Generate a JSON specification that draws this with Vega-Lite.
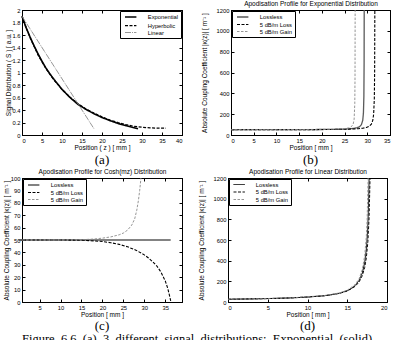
{
  "$schema": "https://vega.github.io/schema/vega-lite/v6.json",
  "background": "white",
  "padding": {"left": 3, "top": 0, "right": 0, "bottom": 0},
  "config": {
    "font": "Liberation Sans",
    "view": {"stroke": "black", "strokeWidth": 1},
    "axis": {
      "grid": false, "domainColor": "black", "domainWidth": 1,
      "tickColor": "black", "tickWidth": 1, "tickSize": -3, "labelPadding": 5,
      "labelColor": "black", "labelFont": "Liberation Sans", "labelFontSize": 5.8,
      "titleFont": "Liberation Sans", "titleFontSize": 6.5, "titleFontWeight": "normal",
      "titleColor": "black", "titlePadding": 2
    },
    "legend": {
      "offset": 1, "padding": 2, "strokeColor": "black", "fillColor": "white",
      "labelFont": "Liberation Sans", "labelFontSize": 5.8, "labelColor": "black",
      "symbolType": "M-2.8,0H1", "symbolSize": 36, "symbolOffset": 7.4,
      "rowPadding": 0.5, "labelOffset": 10.4
    },
    "title": {"font": "Liberation Serif", "fontSize": 13, "fontWeight": "normal", "color": "black", "orient": "bottom", "offset": 3},
    "line": {"clip": true}
  },
  "datasets": {
    "sig": [
      {"s": "Exponential", "z": 0, "v": 1.9}, {"s": "Exponential", "z": 1, "v": 1.72}, {"s": "Exponential", "z": 2, "v": 1.57},
      {"s": "Exponential", "z": 3, "v": 1.43}, {"s": "Exponential", "z": 4, "v": 1.3}, {"s": "Exponential", "z": 5, "v": 1.18},
      {"s": "Exponential", "z": 6, "v": 1.07}, {"s": "Exponential", "z": 7, "v": 0.975}, {"s": "Exponential", "z": 8, "v": 0.89},
      {"s": "Exponential", "z": 9, "v": 0.81}, {"s": "Exponential", "z": 10, "v": 0.73}, {"s": "Exponential", "z": 11, "v": 0.665},
      {"s": "Exponential", "z": 12, "v": 0.6}, {"s": "Exponential", "z": 13, "v": 0.545}, {"s": "Exponential", "z": 14, "v": 0.49},
      {"s": "Exponential", "z": 15, "v": 0.45}, {"s": "Exponential", "z": 16, "v": 0.41}, {"s": "Exponential", "z": 17, "v": 0.375},
      {"s": "Exponential", "z": 18, "v": 0.34}, {"s": "Exponential", "z": 19, "v": 0.31}, {"s": "Exponential", "z": 20, "v": 0.28},
      {"s": "Exponential", "z": 22, "v": 0.23}, {"s": "Exponential", "z": 24, "v": 0.185}, {"s": "Exponential", "z": 26, "v": 0.15},
      {"s": "Exponential", "z": 28, "v": 0.115}, {"s": "Exponential", "z": 29, "v": 0.1},
      {"s": "Hyperbolic", "z": 0, "v": 1.9}, {"s": "Hyperbolic", "z": 2, "v": 1.56}, {"s": "Hyperbolic", "z": 4, "v": 1.28},
      {"s": "Hyperbolic", "z": 6, "v": 1.06}, {"s": "Hyperbolic", "z": 8, "v": 0.88}, {"s": "Hyperbolic", "z": 10, "v": 0.73},
      {"s": "Hyperbolic", "z": 12, "v": 0.605}, {"s": "Hyperbolic", "z": 14, "v": 0.5}, {"s": "Hyperbolic", "z": 16, "v": 0.415},
      {"s": "Hyperbolic", "z": 18, "v": 0.35}, {"s": "Hyperbolic", "z": 20, "v": 0.29}, {"s": "Hyperbolic", "z": 22, "v": 0.24},
      {"s": "Hyperbolic", "z": 24, "v": 0.2}, {"s": "Hyperbolic", "z": 26, "v": 0.165}, {"s": "Hyperbolic", "z": 28, "v": 0.14},
      {"s": "Hyperbolic", "z": 30, "v": 0.125}, {"s": "Hyperbolic", "z": 32, "v": 0.115}, {"s": "Hyperbolic", "z": 34, "v": 0.11},
      {"s": "Hyperbolic", "z": 36, "v": 0.108},
      {"s": "Linear", "z": 0, "v": 1.9}, {"s": "Linear", "z": 18, "v": 0.1}
    ],
    "expo": [
      {"s": "Lossless", "z": 0, "v": 50.6}, {"s": "Lossless", "z": 5, "v": 50.8}, {"s": "Lossless", "z": 10, "v": 51.2},
      {"s": "Lossless", "z": 15, "v": 51.7}, {"s": "Lossless", "z": 18, "v": 52.3}, {"s": "Lossless", "z": 20, "v": 52.9},
      {"s": "Lossless", "z": 22, "v": 53.9}, {"s": "Lossless", "z": 24, "v": 55.5}, {"s": "Lossless", "z": 25, "v": 56.9},
      {"s": "Lossless", "z": 26, "v": 59.1}, {"s": "Lossless", "z": 27, "v": 63.1}, {"s": "Lossless", "z": 27.8, "v": 70.1},
      {"s": "Lossless", "z": 28.3, "v": 80}, {"s": "Lossless", "z": 28.7, "v": 98.7}, {"s": "Lossless", "z": 29.0, "v": 140.9},
      {"s": "Lossless", "z": 29.15, "v": 209.5}, {"s": "Lossless", "z": 29.25, "v": 369.5}, {"s": "Lossless", "z": 29.3, "v": 689.5},
      {"s": "Lossless", "z": 29.322, "v": 1200},
      {"s": "5 dB/m Loss", "z": 0, "v": 49.9}, {"s": "5 dB/m Loss", "z": 10, "v": 50.6}, {"s": "5 dB/m Loss", "z": 15, "v": 51.2},
      {"s": "5 dB/m Loss", "z": 20, "v": 52.3}, {"s": "5 dB/m Loss", "z": 22, "v": 53.1}, {"s": "5 dB/m Loss", "z": 24, "v": 54.3},
      {"s": "5 dB/m Loss", "z": 26, "v": 56.4}, {"s": "5 dB/m Loss", "z": 27, "v": 58.1}, {"s": "5 dB/m Loss", "z": 28, "v": 60.7},
      {"s": "5 dB/m Loss", "z": 29, "v": 65.2}, {"s": "5 dB/m Loss", "z": 29.8, "v": 72.2}, {"s": "5 dB/m Loss", "z": 30.4, "v": 83.1},
      {"s": "5 dB/m Loss", "z": 30.9, "v": 104.8}, {"s": "5 dB/m Loss", "z": 31.2, "v": 138.5}, {"s": "5 dB/m Loss", "z": 31.4, "v": 198.5},
      {"s": "5 dB/m Loss", "z": 31.55, "v": 348.5}, {"s": "5 dB/m Loss", "z": 31.62, "v": 611}, {"s": "5 dB/m Loss", "z": 31.661, "v": 1200},
      {"s": "5 dB/m Gain", "z": 0, "v": 51.4}, {"s": "5 dB/m Gain", "z": 10, "v": 51.9}, {"s": "5 dB/m Gain", "z": 15, "v": 52.5},
      {"s": "5 dB/m Gain", "z": 20, "v": 53.9}, {"s": "5 dB/m Gain", "z": 22, "v": 55.2}, {"s": "5 dB/m Gain", "z": 24, "v": 58},
      {"s": "5 dB/m Gain", "z": 25, "v": 61.1}, {"s": "5 dB/m Gain", "z": 26, "v": 69}, {"s": "5 dB/m Gain", "z": 26.5, "v": 79.9},
      {"s": "5 dB/m Gain", "z": 26.9, "v": 106}, {"s": "5 dB/m Gain", "z": 27.1, "v": 150.5}, {"s": "5 dB/m Gain", "z": 27.25, "v": 300.5},
      {"s": "5 dB/m Gain", "z": 27.3, "v": 550.5}, {"s": "5 dB/m Gain", "z": 27.328, "v": 1200}
    ],
    "cosh": [
      {"s": "Lossless", "z": 0, "v": 50}, {"s": "Lossless", "z": 10, "v": 50}, {"s": "Lossless", "z": 20, "v": 50},
      {"s": "Lossless", "z": 30, "v": 50}, {"s": "Lossless", "z": 36.3, "v": 50},
      {"s": "5 dB/m Loss", "z": 0, "v": 50}, {"s": "5 dB/m Loss", "z": 10, "v": 50}, {"s": "5 dB/m Loss", "z": 15, "v": 49.8},
      {"s": "5 dB/m Loss", "z": 17, "v": 49.5}, {"s": "5 dB/m Loss", "z": 20, "v": 48.8}, {"s": "5 dB/m Loss", "z": 22, "v": 47.8},
      {"s": "5 dB/m Loss", "z": 24, "v": 46.5}, {"s": "5 dB/m Loss", "z": 26, "v": 44.5}, {"s": "5 dB/m Loss", "z": 28, "v": 41.8},
      {"s": "5 dB/m Loss", "z": 30, "v": 38}, {"s": "5 dB/m Loss", "z": 31, "v": 35.5}, {"s": "5 dB/m Loss", "z": 32, "v": 32.5},
      {"s": "5 dB/m Loss", "z": 33, "v": 29}, {"s": "5 dB/m Loss", "z": 34, "v": 24}, {"s": "5 dB/m Loss", "z": 35, "v": 17},
      {"s": "5 dB/m Loss", "z": 35.6, "v": 11}, {"s": "5 dB/m Loss", "z": 36.1, "v": 4}, {"s": "5 dB/m Loss", "z": 36.3, "v": 1},
      {"s": "5 dB/m Gain", "z": 0, "v": 50}, {"s": "5 dB/m Gain", "z": 10, "v": 50}, {"s": "5 dB/m Gain", "z": 15, "v": 50.2},
      {"s": "5 dB/m Gain", "z": 18, "v": 50.8}, {"s": "5 dB/m Gain", "z": 20, "v": 51.5}, {"s": "5 dB/m Gain", "z": 22, "v": 52.5},
      {"s": "5 dB/m Gain", "z": 24, "v": 54.2}, {"s": "5 dB/m Gain", "z": 25, "v": 55.6}, {"s": "5 dB/m Gain", "z": 26, "v": 58},
      {"s": "5 dB/m Gain", "z": 27, "v": 62}, {"s": "5 dB/m Gain", "z": 27.7, "v": 67}, {"s": "5 dB/m Gain", "z": 28.2, "v": 74},
      {"s": "5 dB/m Gain", "z": 28.6, "v": 82}, {"s": "5 dB/m Gain", "z": 28.9, "v": 90}, {"s": "5 dB/m Gain", "z": 29.2, "v": 100}
    ],
    "lin": [
      {"s": "Lossless", "z": 0, "v": 26.7}, {"s": "Lossless", "z": 2, "v": 28.75}, {"s": "Lossless", "z": 4, "v": 31.4},
      {"s": "Lossless", "z": 6, "v": 35}, {"s": "Lossless", "z": 8, "v": 40}, {"s": "Lossless", "z": 10, "v": 47.5},
      {"s": "Lossless", "z": 12, "v": 60}, {"s": "Lossless", "z": 13, "v": 70}, {"s": "Lossless", "z": 14, "v": 85},
      {"s": "Lossless", "z": 15, "v": 110}, {"s": "Lossless", "z": 15.5, "v": 130}, {"s": "Lossless", "z": 16, "v": 160},
      {"s": "Lossless", "z": 16.5, "v": 210}, {"s": "Lossless", "z": 16.9, "v": 282.7}, {"s": "Lossless", "z": 17.2, "v": 385},
      {"s": "Lossless", "z": 17.4, "v": 510}, {"s": "Lossless", "z": 17.55, "v": 676.7}, {"s": "Lossless", "z": 17.65, "v": 867},
      {"s": "Lossless", "z": 17.75, "v": 1200},
      {"s": "5 dB/m Loss", "z": 0, "v": 26.6}, {"s": "5 dB/m Loss", "z": 4, "v": 31.2}, {"s": "5 dB/m Loss", "z": 8, "v": 39.6},
      {"s": "5 dB/m Loss", "z": 12, "v": 59}, {"s": "5 dB/m Loss", "z": 14, "v": 82.8}, {"s": "5 dB/m Loss", "z": 15, "v": 106},
      {"s": "5 dB/m Loss", "z": 16, "v": 151.5}, {"s": "5 dB/m Loss", "z": 16.5, "v": 195}, {"s": "5 dB/m Loss", "z": 16.9, "v": 256},
      {"s": "5 dB/m Loss", "z": 17.2, "v": 336}, {"s": "5 dB/m Loss", "z": 17.4, "v": 427}, {"s": "5 dB/m Loss", "z": 17.6, "v": 587},
      {"s": "5 dB/m Loss", "z": 17.75, "v": 821}, {"s": "5 dB/m Loss", "z": 17.868, "v": 1200},
      {"s": "5 dB/m Gain", "z": 0, "v": 26.8}, {"s": "5 dB/m Gain", "z": 4, "v": 31.6}, {"s": "5 dB/m Gain", "z": 8, "v": 40.4},
      {"s": "5 dB/m Gain", "z": 12, "v": 61}, {"s": "5 dB/m Gain", "z": 14, "v": 87.3}, {"s": "5 dB/m Gain", "z": 15, "v": 114},
      {"s": "5 dB/m Gain", "z": 16, "v": 169.6}, {"s": "5 dB/m Gain", "z": 16.5, "v": 227}, {"s": "5 dB/m Gain", "z": 16.9, "v": 316},
      {"s": "5 dB/m Gain", "z": 17.2, "v": 451}, {"s": "5 dB/m Gain", "z": 17.4, "v": 635}, {"s": "5 dB/m Gain", "z": 17.5, "v": 799},
      {"s": "5 dB/m Gain", "z": 17.628, "v": 1200}
    ]
  },
  "title": {
    "text": "Figure\u00a0\u00a06.6\u00a0\u00a0(a)\u00a0\u00a03\u00a0\u00a0different\u00a0\u00a0signal\u00a0\u00a0distributions:\u00a0\u00a0Exponential\u00a0\u00a0(solid),",
    "orient": "bottom", "anchor": "start", "frame": "group", "fontSize": 12.5, "offset": -0.5
  },
  "spacing": 0,
  "resolve": {"scale": {"color": "independent", "strokeDash": "independent", "strokeWidth": "independent"}},
  "vconcat": [
    {
      "bounds": "flush",
      "spacing": 49,
      "resolve": {"scale": {"color": "independent", "strokeDash": "independent", "strokeWidth": "independent"}},
      "hconcat": [
        {
          "width": 160, "height": 125,
          "title": "(a)",
          "data": {"name": "sig"},
          "layer": [
            {
              "mark": {"type": "line"},
              "encoding": {
                "x": {"field": "z", "type": "quantitative", "scale": {"domain": [0, 40], "nice": false},
                      "axis": {"title": "Position ( z ) [ mm ]", "values": [0, 5, 10, 15, 20, 25, 30, 35, 40]}},
                "y": {"field": "v", "type": "quantitative", "scale": {"domain": [0, 2], "nice": false},
                      "axis": {"title": "Signal Distribution ( S ) [ a.u. ]", "titlePadding": 0, "format": "~g",
                               "values": [0, 0.2, 0.4, 0.6, 0.8, 1, 1.2, 1.4, 1.6, 1.8, 2]}},
                "color": {"field": "s", "type": "nominal",
                          "scale": {"domain": ["Exponential", "Hyperbolic", "Linear"], "range": ["#000000", "#000000", "#8a8a8a"]},
                          "legend": {"orient": "top-right", "title": null}},
                "strokeDash": {"field": "s", "type": "nominal",
                               "scale": {"domain": ["Exponential", "Hyperbolic", "Linear"], "range": [[1, 0], [3, 1.5], [6, 1, 1, 1]]},
                               "legend": {"orient": "top-right", "title": null}},
                "strokeWidth": {"field": "s", "type": "nominal",
                                "scale": {"domain": ["Exponential", "Hyperbolic", "Linear"], "range": [1.6, 0.9, 0.9]},
                                "legend": {"orient": "top-right", "title": null}}
              }
            },
            {
              "mark": {"type": "point", "opacity": 0},
              "encoding": {
                "x": {"field": "z", "type": "quantitative", "axis": {"orient": "top", "labels": false, "title": null, "values": [0, 5, 10, 15, 20, 25, 30, 35, 40]}},
                "y": {"field": "v", "type": "quantitative", "axis": {"orient": "right", "labels": false, "title": null, "values": [0, 0.2, 0.4, 0.6, 0.8, 1, 1.2, 1.4, 1.6, 1.8, 2]}}
              }
            }
          ],
          "resolve": {"axis": {"x": "independent", "y": "independent"}}
        },
        {
          "width": 159, "height": 125,
          "title": "(b)",
          "data": {"name": "expo"},
          "layer": [
            {
              "mark": {"type": "line"},
              "encoding": {
                "x": {"field": "z", "type": "quantitative", "scale": {"domain": [0, 35], "nice": false},
                      "axis": {"title": "Position [ mm ]", "values": [0, 5, 10, 15, 20, 25, 30, 35]}},
                "y": {"field": "v", "type": "quantitative", "scale": {"domain": [0, 1200], "nice": false},
                      "axis": {"title": "Absolute Coupling Coefficient |κ(z)| [ m⁻¹ ]", "titlePadding": 9, "format": "d",
                               "values": [0, 200, 400, 600, 800, 1000, 1200]}},
                "color": {"field": "s", "type": "nominal",
                          "scale": {"domain": ["Lossless", "5 dB/m Loss", "5 dB/m Gain"], "range": ["#5a5a5a", "#000000", "#8a8a8a"]},
                          "legend": {"orient": "top-left", "title": null}},
                "strokeDash": {"field": "s", "type": "nominal",
                               "scale": {"domain": ["Lossless", "5 dB/m Loss", "5 dB/m Gain"], "range": [[1, 0], [3, 1.5], [2.5, 1.5]]},
                               "legend": {"orient": "top-left", "title": null}},
                "strokeWidth": {"field": "s", "type": "nominal",
                                "scale": {"domain": ["Lossless", "5 dB/m Loss", "5 dB/m Gain"], "range": [1.3, 0.9, 0.9]},
                                "legend": {"orient": "top-left", "title": null}}
              }
            },
            {
              "mark": {"type": "point", "opacity": 0},
              "encoding": {
                "x": {"field": "z", "type": "quantitative", "axis": {"orient": "top", "labels": false, "title": "Apodisation Profile for Exponential Distribution", "titlePadding": 3, "values": [0, 5, 10, 15, 20, 25, 30, 35]}},
                "y": {"field": "v", "type": "quantitative", "axis": {"orient": "right", "labels": false, "title": null, "values": [0, 200, 400, 600, 800, 1000, 1200]}}
              }
            }
          ],
          "resolve": {"axis": {"x": "independent", "y": "independent"}}
        }
      ]
    },
    {
      "bounds": "flush",
      "spacing": 46,
      "resolve": {"scale": {"color": "independent", "strokeDash": "independent", "strokeWidth": "independent"}},
      "hconcat": [
        {
          "width": 160, "height": 124,
          "title": {"text": "(c)", "offset": 2},
          "data": {"name": "cosh"},
          "layer": [
            {
              "mark": {"type": "line"},
              "encoding": {
                "x": {"field": "z", "type": "quantitative", "scale": {"domain": [0.8, 39], "nice": false},
                      "axis": {"title": "Position [ mm ]", "values": [5, 10, 15, 20, 25, 30, 35]}},
                "y": {"field": "v", "type": "quantitative", "scale": {"domain": [0, 100], "nice": false},
                      "axis": {"title": "Absolute Coupling Coefficient |κ(z)| [ m⁻¹ ]", "titlePadding": 0.5,
                               "values": [0, 10, 20, 30, 40, 50, 60, 70, 80, 90, 100]}},
                "color": {"field": "s", "type": "nominal",
                          "scale": {"domain": ["Lossless", "5 dB/m Loss", "5 dB/m Gain"], "range": ["#5a5a5a", "#000000", "#8a8a8a"]},
                          "legend": {"orient": "top-left", "title": null}},
                "strokeDash": {"field": "s", "type": "nominal",
                               "scale": {"domain": ["Lossless", "5 dB/m Loss", "5 dB/m Gain"], "range": [[1, 0], [3, 1.5], [2.5, 1.5]]},
                               "legend": {"orient": "top-left", "title": null}},
                "strokeWidth": {"field": "s", "type": "nominal",
                                "scale": {"domain": ["Lossless", "5 dB/m Loss", "5 dB/m Gain"], "range": [1.3, 0.9, 0.9]},
                                "legend": {"orient": "top-left", "title": null}}
              }
            },
            {
              "mark": {"type": "point", "opacity": 0},
              "encoding": {
                "x": {"field": "z", "type": "quantitative", "axis": {"orient": "top", "labels": false, "title": "Apodisation Profile for Cosh(mz) Distribution", "titlePadding": 3, "values": [5, 10, 15, 20, 25, 30, 35]}},
                "y": {"field": "v", "type": "quantitative", "axis": {"orient": "right", "labels": false, "title": null, "values": [0, 10, 20, 30, 40, 50, 60, 70, 80, 90, 100]}}
              }
            }
          ],
          "resolve": {"axis": {"x": "independent", "y": "independent"}}
        },
        {
          "width": 159, "height": 124,
          "title": {"text": "(d)", "offset": 2},
          "data": {"name": "lin"},
          "layer": [
            {
              "mark": {"type": "line"},
              "encoding": {
                "x": {"field": "z", "type": "quantitative", "scale": {"domain": [0, 20], "nice": false},
                      "axis": {"title": "Position [ mm ]", "values": [0, 5, 10, 15, 20]}},
                "y": {"field": "v", "type": "quantitative", "scale": {"domain": [0, 1200], "nice": false},
                      "axis": {"title": "Absolute Coupling Coefficient |κ(z)| [ m⁻¹ ]", "titlePadding": 9, "format": "d",
                               "values": [0, 200, 400, 600, 800, 1000, 1200]}},
                "color": {"field": "s", "type": "nominal",
                          "scale": {"domain": ["Lossless", "5 dB/m Loss", "5 dB/m Gain"], "range": ["#000000", "#000000", "#8a8a8a"]},
                          "legend": {"orient": "top-left", "title": null}},
                "strokeDash": {"field": "s", "type": "nominal",
                               "scale": {"domain": ["Lossless", "5 dB/m Loss", "5 dB/m Gain"], "range": [[1, 0], [3, 1.5], [2.5, 1.5]]},
                               "legend": {"orient": "top-left", "title": null}},
                "strokeWidth": {"field": "s", "type": "nominal",
                                "scale": {"domain": ["Lossless", "5 dB/m Loss", "5 dB/m Gain"], "range": [1, 0.9, 0.9]},
                                "legend": {"orient": "top-left", "title": null}}
              }
            },
            {
              "mark": {"type": "point", "opacity": 0},
              "encoding": {
                "x": {"field": "z", "type": "quantitative", "axis": {"orient": "top", "labels": false, "title": "Apodisation Profile for Linear Distribution", "titlePadding": 3, "values": [0, 5, 10, 15, 20]}},
                "y": {"field": "v", "type": "quantitative", "axis": {"orient": "right", "labels": false, "title": null, "values": [0, 200, 400, 600, 800, 1000, 1200]}}
              }
            }
          ],
          "resolve": {"axis": {"x": "independent", "y": "independent"}}
        }
      ]
    }
  ]
}
